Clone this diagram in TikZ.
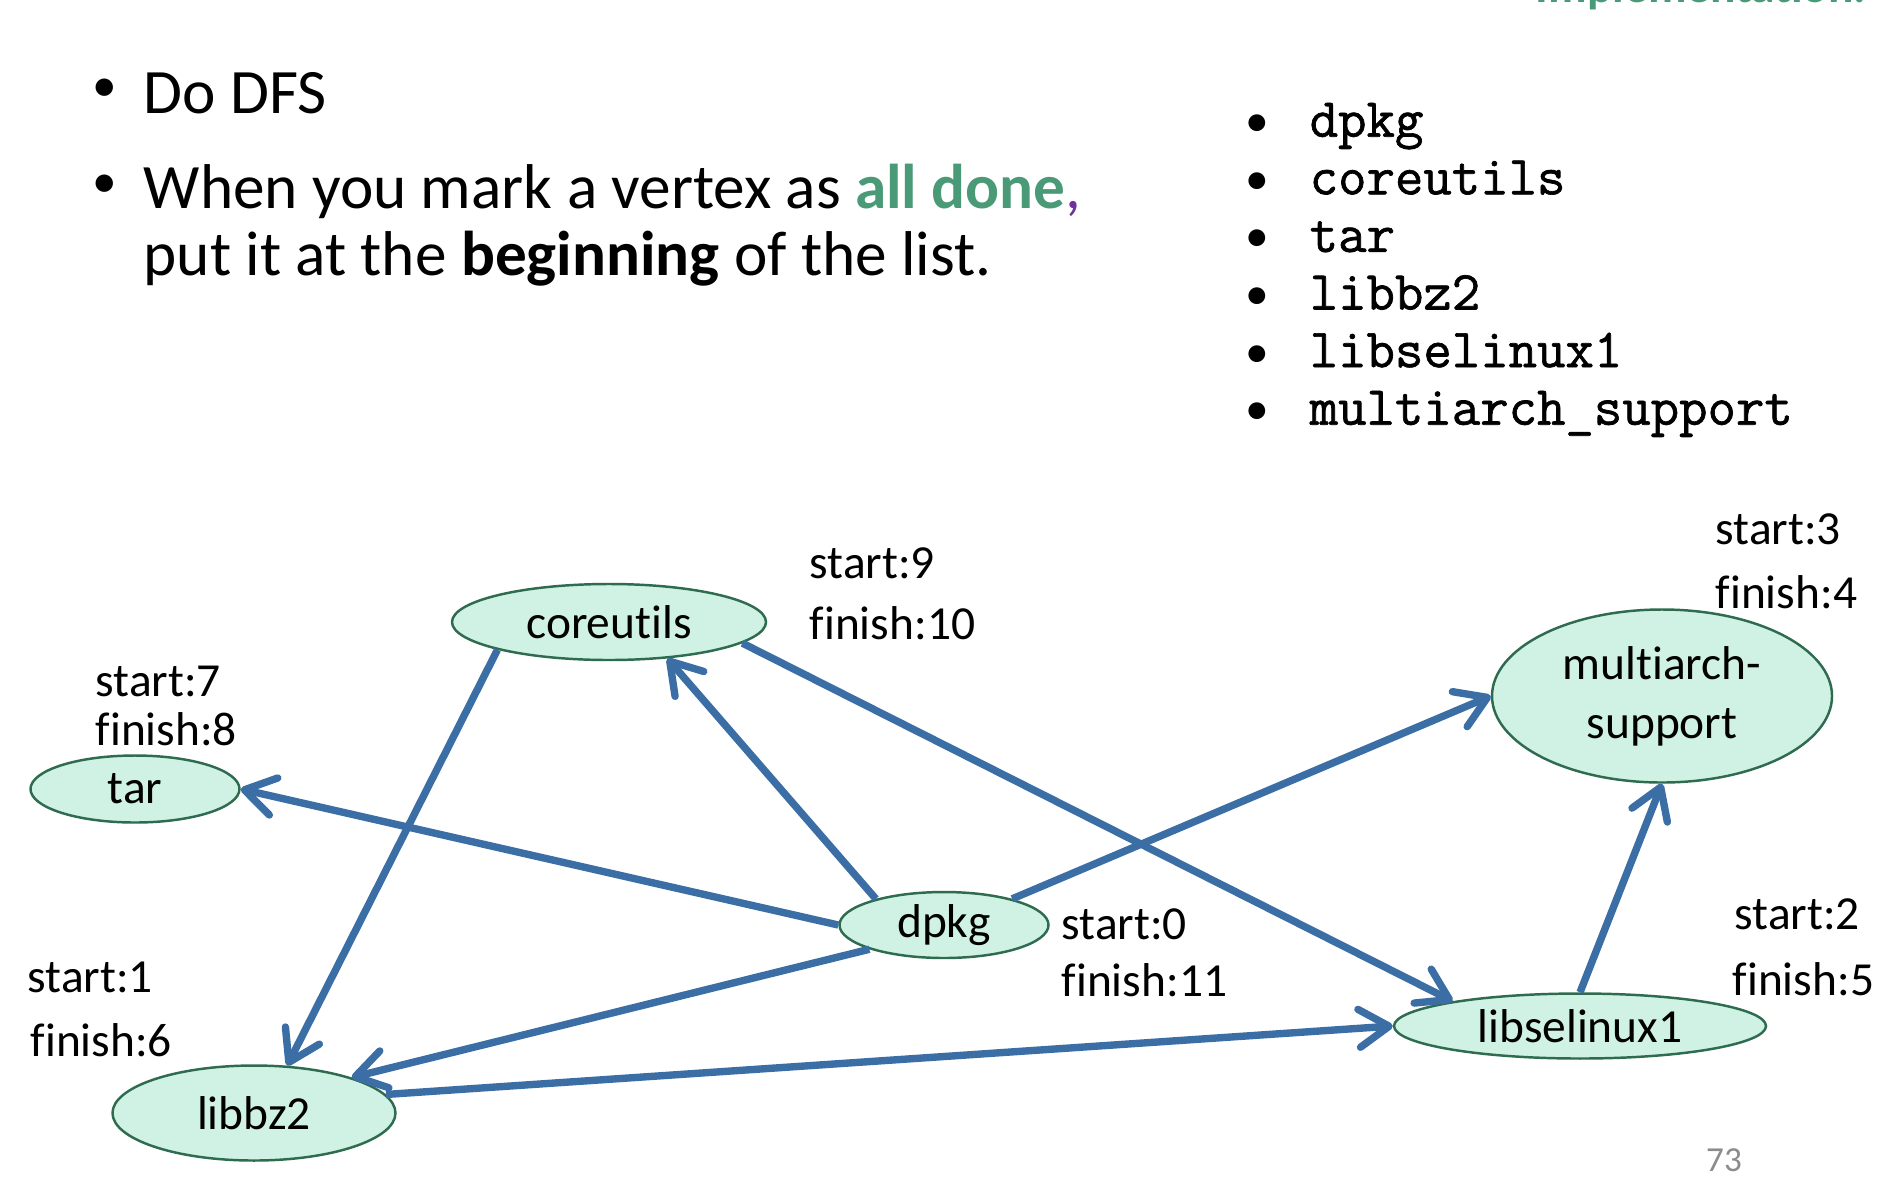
\documentclass[tikz,border=0pt]{standalone}
\usepackage{fontspec}
\setmainfont[Ligatures=NoCommon]{Carlito}
\setmonofont[FakeBold=1.2]{Latin Modern Mono}
\usetikzlibrary{matrix,shapes,arrows.meta}

\definecolor{edgeblue}{HTML}{3A6EA5}
\definecolor{nodefill}{HTML}{CFF2E4}
\definecolor{nodeline}{HTML}{2F6B4F}
\definecolor{donegreen}{HTML}{4A9A78}
\definecolor{commapurple}{HTML}{7030A0}
\definecolor{pagegray}{HTML}{8C8C8C}

\tikzset{
  pkg/.style={ellipse, draw=nodeline, fill=nodefill, line width=0.7pt, inner sep=0pt, font=\fontsize{13.5}{16.8}\selectfont},
  dep/.style={draw=edgeblue, line width=2.1pt, line join=round, -{Straight Barb[length=3mm,width=3.8mm,round]}},
  lbl/.style={anchor=west, inner sep=0pt, font=\fontsize{13.5}{16}\selectfont},
  big/.style={anchor=base west, inner sep=0pt, font=\fontsize{18}{20}\selectfont},
  dot/.style={inner sep=0pt, font=\fontsize{14}{16}\selectfont}
}

\begin{document}
\begin{tikzpicture}

\fill[white] (0,0) rectangle (18.86,-11.98);
\useasboundingbox (0,0) rectangle (18.86,-11.98);

\node[anchor=base east, inner sep=0pt, text=donegreen, font=\fontsize{13.5}{16}\selectfont\bfseries] (title) at (18.67,-0.03) {Implementation.};

\node[dot] (b1) at (1.05,-0.90) {\textbullet};
\node[big] (dfs) at (1.43,-1.13) {Do DFS};
\node[dot] (b2) at (1.05,-1.86) {\textbullet};
\node[big] (rule1) at (1.43,-2.08) {When you mark a vertex as \textcolor{donegreen}{\textbf{all done}}\textcolor{commapurple}{,}};
\node[big] (rule2) at (1.43,-2.75) {put it at the \textbf{beginning} of the list.};

\matrix (list)[matrix of nodes, anchor=north west, inner sep=0pt, column sep=0.40cm, row sep=0pt,
  nodes={anchor=base west, inner sep=0pt, text height=0.42cm, text depth=0.156cm, font=\fontsize{15.7}{16}\selectfont\ttfamily},
  column 1/.style={nodes={font=\fontsize{13.5}{16}\selectfont, text width=0.24cm, align=center}}] at (12.45,-0.94)
{
\textbullet & dpkg \\
\textbullet & coreutils \\
\textbullet & tar \\
\textbullet & libbz2 \\
\textbullet & libselinux1 \\
\textbullet & multiarch\_support \\
};


\node[pkg, minimum width=3.14cm, minimum height=0.76cm] (core) at (6.09,-6.22) {coreutils};
\node[pkg, minimum width=2.09cm, minimum height=0.67cm] (tar) at (1.35,-7.89) {tar};
\node[pkg, minimum width=2.09cm, minimum height=0.66cm] (dpkg) at (9.44,-9.25) {dpkg};
\node[pkg, minimum width=2.83cm, minimum height=0.95cm] (bz) at (2.54,-11.13) {libbz2};
\node[pkg, minimum width=3.72cm, minimum height=0.65cm] (selinux) at (15.80,-10.26) {libselinux1};
\node[pkg, minimum width=3.40cm, minimum height=1.73cm, align=center] (multi) at (16.62,-6.96) {multiarch-\\support};

\node[lbl] (core-s) at (8.09,-5.63) {start:9};
\node[lbl] (core-f) at (8.09,-6.23) {finish:10};
\node[lbl] (tar-s) at (0.95,-6.81) {start:7};
\node[lbl] (tar-f) at (0.95,-7.29) {finish:8};
\node[lbl] (dpkg-s) at (10.61,-9.24) {start:0};
\node[lbl] (dpkg-f) at (10.61,-9.80) {finish:11};
\node[lbl] (bz-s) at (0.27,-9.77) {start:1};
\node[lbl] (bz-f) at (0.30,-10.40) {finish:6};
\node[lbl] (selinux-s) at (17.34,-9.14) {start:2};
\node[lbl] (selinux-f) at (17.32,-9.79) {finish:5};
\node[lbl] (multi-s) at (17.15,-5.29) {start:3};
\node[lbl] (multi-f) at (17.15,-5.92) {finish:4};


\draw[dep] (core.194) -- (bz.55);
\draw[dep] (dpkg.159) -- (core.328);
\draw[dep] (core.351) -- (selinux.169);
\draw[dep] (dpkg.west) -- (tar.east);
\draw[dep] (dpkg.198) -- (bz.20);
\draw[dep] (dpkg.21) -- (multi.west);
\draw[dep] (bz.8) -- (selinux.west);
\draw[dep] (selinux.north) -- (multi.south);

\node[inner sep=0pt, text=pagegray, font=\fontsize{10}{12}\selectfont] (pagenum) at (17.24,-11.60) {73};

\end{tikzpicture}
\end{document}
